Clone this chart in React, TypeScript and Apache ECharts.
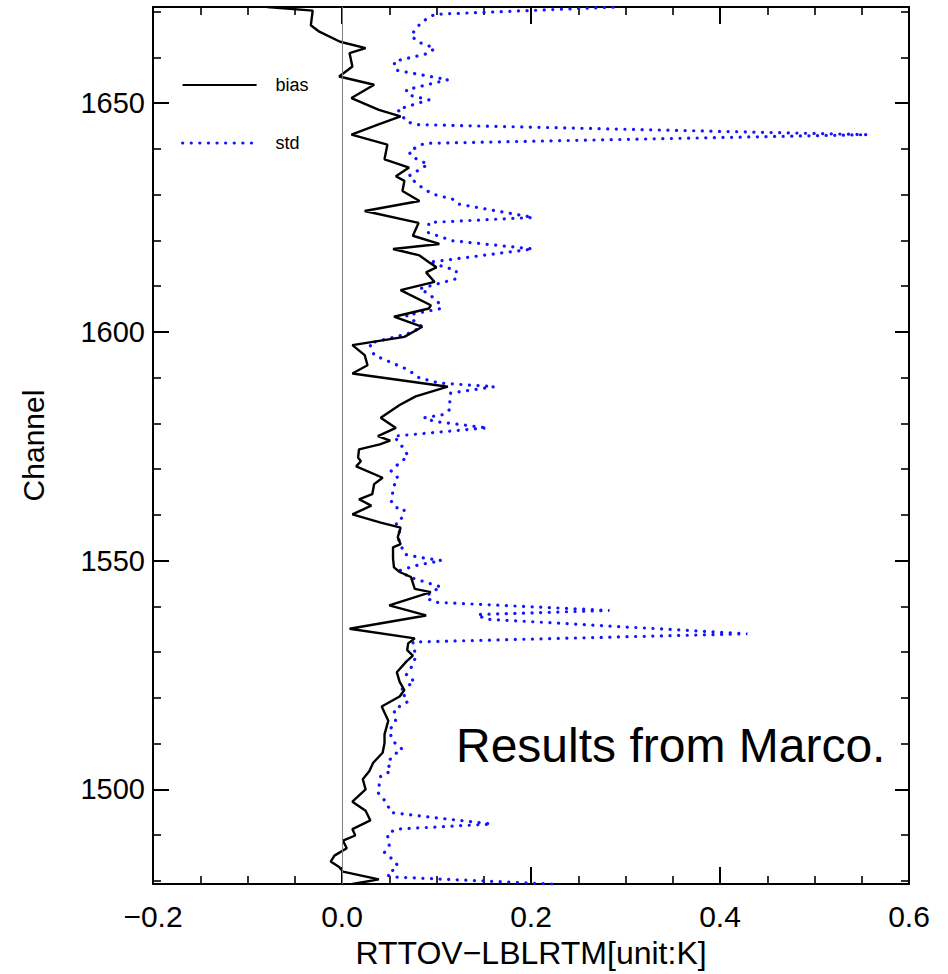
import React, { useEffect, useRef } from "react";
import * as echarts from "echarts";

// ---- data ----
const biasChannels = [
  1479.3, 1480.3, 1482.0, 1483.0, 1484.2, 1485.5, 1487.1, 1488.8, 1489.9, 1491.3,
  1493.2, 1495.3, 1497.3, 1500.0, 1502.2, 1504.0, 1505.8, 1508.0, 1510.1, 1512.0,
  1515.0, 1518.1, 1520.3, 1521.7, 1523.5, 1525.6, 1527.9, 1529.2, 1530.4, 1531.9,
  1533.0, 1535.1, 1538.0, 1540.2, 1543.1, 1543.8, 1546.4, 1547.5, 1548.5, 1550.5,
  1552.9, 1553.6, 1555.1, 1557.2, 1558.3, 1560.1, 1562.0, 1563.4, 1564.5, 1566.7,
  1568.1, 1570.6, 1571.7, 1572.5, 1574.3, 1575.4, 1576.2, 1577.2, 1579.0, 1581.2,
  1584.0, 1585.9, 1588.0, 1590.9, 1592.7, 1594.9, 1597.1, 1598.9, 1601.1, 1603.3,
  1605.1, 1605.8, 1609.1, 1610.9, 1613.0, 1614.1, 1615.2, 1616.7, 1618.1, 1619.2,
  1621.0, 1623.8, 1626.4, 1628.6, 1630.8, 1633.0, 1634.0, 1635.9, 1637.7, 1640.9,
  1643.1, 1645.3, 1647.1, 1648.5, 1651.1, 1654.0, 1655.8, 1658.0, 1660.9, 1662.0,
  1663.4, 1665.6, 1667.0, 1670.2, 1671.0,
];
const biasValues = [
  0.011, 0.039, 0.001, -0.003, -0.012, -0.008, 0.005, 0.001, 0.014, 0.011,
  0.030, 0.025, 0.011, 0.025, 0.022, 0.029, 0.033, 0.043, 0.045, 0.045,
  0.049, 0.042, 0.061, 0.066, 0.061, 0.058, 0.068, 0.075, 0.069, 0.070,
  0.077, 0.008, 0.089, 0.050, 0.094, 0.077, 0.073, 0.061, 0.055, 0.054,
  0.054, 0.062, 0.059, 0.062, 0.041, 0.011, 0.031, 0.018, 0.032, 0.034,
  0.043, 0.015, 0.020, 0.017, 0.018, 0.040, 0.051, 0.038, 0.057, 0.041,
  0.061, 0.078, 0.112, 0.011, 0.027, 0.024, 0.011, 0.066, 0.085, 0.055,
  0.092, 0.094, 0.062, 0.098, 0.089, 0.100, 0.092, 0.082, 0.054, 0.103,
  0.075, 0.081, 0.024, 0.082, 0.064, 0.066, 0.057, 0.071, 0.045, 0.048,
  0.010, 0.038, 0.062, 0.039, 0.010, 0.034, -0.003, 0.011, 0.008, 0.025,
  -0.002, -0.024, -0.033, -0.031, -0.079,
];

const stdChannels = [
  1479.3, 1480.8, 1481.2, 1483.3, 1484.4, 1486.2, 1487.7, 1490.2, 1491.3, 1492.4,
  1494.9, 1497.1, 1499.3, 1502.9, 1504.0, 1505.8, 1507.6, 1508.7, 1510.5, 1512.7,
  1515.2, 1517.4, 1519.2, 1521.7, 1523.5, 1525.0, 1527.2, 1529.0, 1532.2, 1534.0,
  1537.2, 1538.2, 1539.1, 1540.9, 1542.0, 1543.1, 1544.2, 1546.4, 1547.8, 1548.9,
  1550.0, 1550.7, 1551.4, 1553.6, 1555.1, 1556.1, 1558.3, 1559.4, 1561.2, 1561.6,
  1563.0, 1566.3, 1568.1, 1569.6, 1571.4, 1572.8, 1574.3, 1577.2, 1579.0, 1580.4,
  1581.2, 1581.9, 1583.0, 1584.4, 1586.6, 1588.0, 1588.8, 1589.9, 1591.7, 1594.9,
  1597.5, 1599.6, 1601.1, 1603.6, 1605.1, 1606.2, 1608.3, 1609.4, 1611.6, 1613.4,
  1615.2, 1618.1, 1619.9, 1621.7, 1623.9, 1625.0, 1627.9, 1629.0, 1630.1, 1631.2,
  1632.6, 1634.1, 1636.6, 1638.4, 1639.5, 1641.2, 1643.1, 1645.3, 1646.0, 1648.6,
  1650.7, 1651.8, 1652.9, 1655.1, 1657.2, 1659.1, 1660.9, 1662.0, 1663.4, 1664.8,
  1667.7, 1669.4, 1671.0,
];
const stdValues = [
  0.222, 0.058, 0.048, 0.059, 0.055, 0.045, 0.050, 0.048, 0.057, 0.158,
  0.052, 0.047, 0.038, 0.041, 0.052, 0.048, 0.055, 0.064, 0.054, 0.050,
  0.057, 0.055, 0.070, 0.062, 0.077, 0.068, 0.075, 0.078, 0.075, 0.429,
  0.152, 0.143, 0.283, 0.097, 0.089, 0.094, 0.105, 0.071, 0.061, 0.078,
  0.105, 0.082, 0.066, 0.062, 0.059, 0.061, 0.057, 0.064, 0.066, 0.057,
  0.052, 0.055, 0.059, 0.052, 0.061, 0.070, 0.066, 0.055, 0.154, 0.098,
  0.087, 0.107, 0.114, 0.114, 0.115, 0.161, 0.103, 0.082, 0.070, 0.034,
  0.029, 0.070, 0.085, 0.068, 0.105, 0.103, 0.092, 0.082, 0.121, 0.121,
  0.092, 0.202, 0.117, 0.091, 0.092, 0.202, 0.124, 0.117, 0.096, 0.087,
  0.078, 0.071, 0.091, 0.073, 0.071, 0.087, 0.556, 0.078, 0.068, 0.059,
  0.092, 0.070, 0.068, 0.112, 0.057, 0.055, 0.092, 0.098, 0.080, 0.073,
  0.084, 0.098, 0.290,
];

const xMin = -0.2;
const xMax = 0.6;
const xStep = 0.2;
const yMin = 1479.3;
const yMax = 1671;
const yMajorTicks = [1500, 1550, 1600, 1650];
const yMinorTicks = [
  1480, 1490, 1510, 1520, 1530, 1540, 1560, 1570, 1580, 1590,
  1610, 1620, 1630, 1640, 1660, 1670,
];
const seriesNames = ["bias", "std"];
const xTitle = "RTTOV\u2212LBLRTM[unit:K]";
const yTitle = "Channel";
const noteText = "Results from Marco.";

export default function App() {
  const ref = useRef<HTMLDivElement>(null);

  useEffect(() => {
    if (!ref.current) return;
    const chart = echarts.init(ref.current, null, { renderer: "svg" });
    const font = '"Liberation Sans", Arial, Helvetica, sans-serif';
    const black = "#000";
    const blue = "#1414ff";
    const dotted = { color: blue, width: 3.2, type: [0.1, 8.5], cap: "round" };

    const xCommon = {
      type: "value",
      min: xMin,
      max: xMax,
      interval: xStep,
      splitLine: { show: false },
      axisLine: { show: true, onZero: false, lineStyle: { color: black, width: 2 } },
      axisTick: { show: true, inside: true, length: 17, lineStyle: { color: black, width: 2 } },
      minorTick: { show: true, splitNumber: 4, length: 8, lineStyle: { color: black, width: 1.6 } },
    };

    const yCommon = {
      type: "value",
      min: yMin,
      max: yMax,
      splitLine: { show: false },
    };

    const fmtX = (v: number) => {
      const s = Math.abs(v).toFixed(1);
      return v < -1e-9 ? "\u2212" + s : s;
    };
    const fmtY = (v: number) => String(Math.round(v));

    chart.setOption({
      animation: false,
      backgroundColor: "#fff",
      textStyle: { fontFamily: font },
      grid: { left: 153, right: 39, top: 7, bottom: 86, containLabel: false },
      legend: {
        show: true,
        data: [
          { name: seriesNames[0], lineStyle: { color: black, width: 2.2 } },
          { name: seriesNames[1], lineStyle: dotted },
        ],
        orient: "vertical",
        left: 181,
        top: 76,
        itemWidth: 74,
        itemHeight: 14,
        itemGap: 40,
        padding: 0,
        selectedMode: false,
        itemStyle: { color: "rgba(0,0,0,0)", borderWidth: 0, opacity: 0 },
        textStyle: { fontSize: 18, color: black, fontFamily: font, padding: [0, 0, 0, 14] },
      },
      xAxis: [
        {
          ...xCommon,
          position: "bottom",
          axisLabel: {
            show: true,
            margin: 17,
            fontSize: 30,
            color: black,
            fontFamily: font,
            showMinLabel: true,
            showMaxLabel: true,
            formatter: fmtX,
          },
          name: xTitle,
          nameLocation: "middle",
          nameGap: 53,
          nameTextStyle: { fontSize: 32, color: black, fontFamily: font },
        },
        {
          ...xCommon,
          position: "top",
          axisLabel: { show: false },
        },
      ],
      yAxis: [
        {
          ...yCommon,
          position: "left",
          axisLine: { show: true, onZero: false, lineStyle: { color: black, width: 2 } },
          axisTick: {
            show: true,
            inside: true,
            length: 16,
            customValues: yMajorTicks,
            lineStyle: { color: black, width: 2 },
          },
          axisLabel: {
            show: true,
            customValues: yMajorTicks,
            margin: 8,
            fontSize: 29,
            color: black,
            fontFamily: font,
            formatter: fmtY,
          },
          name: yTitle,
          nameLocation: "middle",
          nameRotate: 90,
          nameGap: 105,
          nameTextStyle: { fontSize: 30, color: black, fontFamily: font },
        },
        {
          ...yCommon,
          position: "left",
          axisLine: { show: false, onZero: false },
          axisTick: {
            show: true,
            inside: true,
            length: 8,
            customValues: yMinorTicks,
            lineStyle: { color: black, width: 1.6 },
          },
          axisLabel: { show: false },
        },
        {
          ...yCommon,
          position: "right",
          axisLine: { show: true, onZero: false, lineStyle: { color: black, width: 2 } },
          axisTick: {
            show: true,
            inside: true,
            length: 14,
            customValues: yMajorTicks,
            lineStyle: { color: black, width: 2 },
          },
          axisLabel: { show: false },
        },
        {
          ...yCommon,
          position: "right",
          axisLine: { show: false, onZero: false },
          axisTick: {
            show: true,
            inside: true,
            length: 8,
            customValues: yMinorTicks,
            lineStyle: { color: black, width: 1.6 },
          },
          axisLabel: { show: false },
        },
      ],
      series: [
        {
          name: seriesNames[0],
          type: "line",
          xAxisIndex: 0,
          yAxisIndex: 0,
          symbol: "none",
          data: biasChannels.map((c, i) => [biasValues[i], c]),
          lineStyle: { color: black, width: 2.4 },
          itemStyle: { color: black },
          z: 3,
          markLine: {
            silent: true,
            symbol: "none",
            label: { show: false },
            lineStyle: { color: "#808080", width: 1, type: "solid" },
            data: [{ xAxis: 0 }],
          },
        },
        {
          name: seriesNames[1],
          type: "line",
          xAxisIndex: 0,
          yAxisIndex: 0,
          symbol: "none",
          data: stdChannels.map((c, i) => [stdValues[i], c]),
          lineStyle: dotted,
          itemStyle: { color: blue },
          z: 2,
        },
      ],
      graphic: [
        {
          type: "text",
          left: 456,
          top: 721,
          silent: true,
          style: {
            text: noteText,
            font: '48px "Liberation Sans", Arial, sans-serif',
            fill: black,
          },
        },
      ],
    });

    return () => chart.dispose();
  }, []);

  return (
    <div
      ref={ref}
      style={{ position: "absolute", left: 0, top: 0, width: 948, height: 974 }}
    />
  );
}
